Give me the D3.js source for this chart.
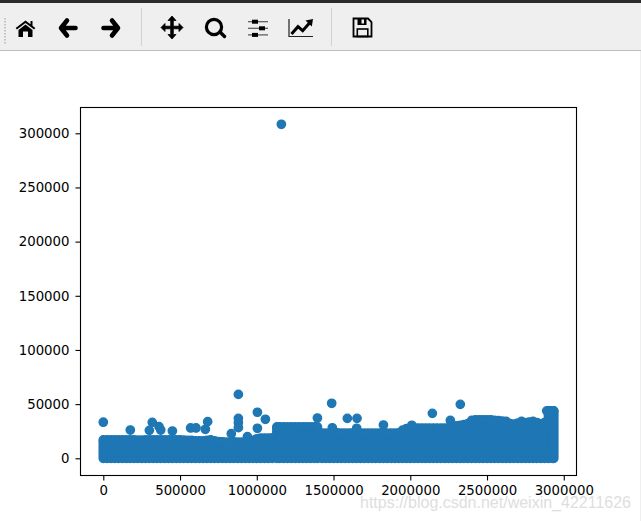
<!DOCTYPE html>
<html>
<head>
<meta charset="utf-8">
<title>scatter</title>
<script src="https://cdn.jsdelivr.net/npm/d3@7/dist/d3.min.js"></script>
<style>
  html, body { margin: 0; padding: 0; background: #fff; }
  svg { display: block; }
  text { font-family: "DejaVu Sans", sans-serif; }
</style>
</head>
<body>
<script>
var xTicks = [0, 500000, 1000000, 1500000, 2000000, 2500000, 3000000];
var yTicks = [0, 50000, 100000, 150000, 200000, 250000, 300000];

// isolated points above the main band
var pointX = [0, 176000, 319000, 300000, 363000, 374000, 450000, 569000, 604000, 665000, 680000, 834000,
  880000, 880000, 880000, 880000, 939000, 1004000, 1056000, 1004000, 1160000, 1395000, 1488000, 1492000,
  1590000, 1653000, 1651000, 1825000, 2010000, 2144000, 2261000, 2326000, 2889000, 2910000, 2932000];
var pointY = [33300, 26100, 33200, 25800, 29200, 26100, 25200, 28000, 28000, 26800, 33800, 22700,
  59000, 36900, 32900, 28300, 19900, 42500, 36000, 27700, 308300, 37200, 50800, 28200,
  36900, 36900, 27700, 30700, 30500, 41500, 34900, 49800, 43800, 43800, 43800];

// top of the solid band
var bandX = [0, 25000, 50000, 75000, 100000, 125000, 150000, 175000, 200000, 225000,
  250000, 275000, 300000, 325000, 350000, 375000, 400000, 425000, 450000, 475000,
  500000, 525000, 550000, 575000, 600000, 625000, 650000, 675000, 700000, 725000,
  750000, 775000, 800000, 825000, 850000, 875000, 900000, 925000, 950000, 975000,
  1000000, 1025000, 1050000, 1075000, 1100000, 1131000, 1150000, 1175000, 1200000, 1225000,
  1250000, 1275000, 1300000, 1325000, 1350000, 1375000, 1395000, 1425000, 1450000, 1475000,
  1500000, 1525000, 1550000, 1575000, 1600000, 1625000, 1650000, 1675000, 1700000, 1725000,
  1750000, 1775000, 1800000, 1825000, 1850000, 1875000, 1900000, 1925000, 1950000, 1975000,
  2000000, 2025000, 2050000, 2075000, 2100000, 2125000, 2150000, 2175000, 2200000, 2225000,
  2250000, 2275000, 2300000, 2325000, 2350000, 2375000, 2400000, 2425000, 2450000, 2475000,
  2500000, 2525000, 2550000, 2575000, 2600000, 2625000, 2650000, 2675000, 2700000, 2725000,
  2750000, 2775000, 2800000, 2825000, 2850000, 2875000, 2900000, 2925000, 2935000];
var bandTop = [17000, 17000, 17000, 17000, 17000, 17000, 17000, 17000, 17000, 16800,
  16800, 17000, 17000, 17000, 17000, 17000, 17000, 17000, 17000, 17000,
  17000, 16800, 16600, 16500, 16000, 16200, 16000, 16500, 17000, 16000,
  15500, 15200, 15000, 15000, 15200, 15000, 15000, 15000, 15500, 16500,
  18000, 18700, 18700, 18700, 18800, 29000, 29000, 29000, 29000, 29000,
  29000, 29000, 29000, 29000, 29000, 29000, 29000, 23200, 23200, 23300,
  23500, 23400, 23300, 23300, 23300, 23400, 23400, 23300, 23300, 23300,
  23300, 23300, 23300, 23300, 23300, 23300, 23300, 23500, 26000, 27500,
  27900, 27900, 27900, 27900, 27900, 27900, 27900, 27900, 27900, 27900,
  28000, 28500, 30000, 30500, 31000, 32000, 35000, 35500, 35500, 35500,
  35500, 35500, 35000, 34800, 34300, 34000, 32000, 31500, 32500, 34000,
  33000, 33500, 34000, 33000, 31500, 33000, 43800, 43800, 43800];

var width = 641, height = 521;
var blue = '#1f77b4';

var translate = function(x, y) {
  return "translate(" + x + ", " + y + ") ";
};

var svg = d3.select('body').append('svg')
  .attr('width', width)
  .attr('height', height);

/*
 * Toolbar
 */
svg.append('rect').attr('width', width).attr('height', 50).style('fill', '#efefef');
svg.append('rect').attr('width', width).attr('height', 3).style('fill', '#2b2b2b');
svg.append('rect').attr('y', 50).attr('width', width).attr('height', 1).style('fill', '#bdbdbd');
svg.append('rect').attr('x', 640).attr('y', 51).attr('width', 1).attr('height', height).style('fill', '#efefef');

d3.range(18, 45, 3).forEach(function(y) {
  svg.append('rect').attr('x', 4).attr('y', y).attr('width', 2).attr('height', 1.5).style('fill', '#c4c4c4');
});

[141, 331].forEach(function(x) {
  svg.append('rect').attr('x', x).attr('y', 8).attr('width', 1).attr('height', 38).style('fill', '#d2d2d2');
});

var icon = function(x, y) {
  return svg.append('g').attr('transform', translate(x, y));
};

// home
icon(25.5, 29).append('path')
  .attr('d', 'M0,-8.5 L5,-4.7 L5,-8 L7,-8 L7,-3.2 L9.8,-1 L8.6,0.6 L0,-6 L-8.6,0.6 L-9.8,-1 Z M-7,1 L0,-4.4 L7,1 L7,8 L2.5,8 L2.5,2.5 L-2.5,2.5 L-2.5,8 L-7,8 Z')
  .style('fill', '#000');

// back and forward
var arrow = function(g) {
  g.append('path')
    .attr('d', 'M-1,-7.5 L-7,0 L-1,7.5 M-6,0 L7.5,0')
    .style('fill', 'none')
    .style('stroke', '#000')
    .style('stroke-width', 4.6)
    .style('stroke-linecap', 'round')
    .style('stroke-linejoin', 'round');
};
arrow(icon(68, 28));
arrow(icon(111, 28).append('g').attr('transform', 'scale(-1,1)'));

// move
icon(172, 27.5).append('path')
  .attr('d', 'M0,-11.5 L4,-7 L1.3,-7 L1.3,-1.3 L7,-1.3 L7,-4 L11,0 L7,4 L7,1.3 L1.3,1.3 L1.3,7 L4,7 L0,11.5 L-4,7 L-1.3,7 L-1.3,1.3 L-7,1.3 L-7,4 L-11,0 L-7,-4 L-7,-1.3 L-1.3,-1.3 L-1.3,-7 L-4,-7 Z')
  .style('fill', '#000').style('stroke', '#000').style('stroke-width', 0.8);

// zoom
var zoomIcon = icon(215, 27);
zoomIcon.append('circle').attr('cx', -1).attr('cy', 0).attr('r', 7.6)
  .style('fill', 'none').style('stroke', '#000').style('stroke-width', 3.2);
zoomIcon.append('line').attr('x1', 5).attr('y1', 5).attr('x2', 9.5).attr('y2', 9.5)
  .style('stroke', '#000').style('stroke-width', 3.4).style('stroke-linecap', 'round');

// sliders
var sliders = icon(258, 28.3);
[[-6.6, -3], [0, 4], [6.6, -3]].forEach(function(s) {
  sliders.append('line').attr('x1', -10).attr('x2', 10).attr('y1', s[0]).attr('y2', s[0])
    .style('stroke', '#555').style('stroke-width', 1.2);
  sliders.append('rect').attr('x', s[1] - 3).attr('y', s[0] - 2).attr('width', 6).attr('height', 4)
    .style('fill', '#000');
});

// subplot line icon
var lineIcon = icon(301, 28);
lineIcon.append('path').attr('d', 'M-12,-9 L-12,8.5 L12,8.5')
  .style('fill', 'none').style('stroke', '#222').style('stroke-width', 1.2);
lineIcon.append('path').attr('d', 'M-9.5,6 L-3,-1.3 L1.7,2.7 L8.5,-5')
  .style('fill', 'none').style('stroke', '#000').style('stroke-width', 3);
lineIcon.append('path').attr('d', 'M4.5,-7.5 L12,-9 L10.8,-1.5 Z').style('fill', '#000');

// save
var saveIcon = icon(362.5, 27.5);
saveIcon.append('path')
  .attr('d', 'M-9,-9 L5.5,-9 L9,-5.5 L9,9 L-9,9 Z')
  .style('fill', 'none').style('stroke', '#000').style('stroke-width', 1.8);
saveIcon.append('rect').attr('x', -5).attr('y', -9).attr('width', 9).attr('height', 6.5).style('fill', '#000');
saveIcon.append('rect').attr('x', -1).attr('y', -8).attr('width', 2.5).attr('height', 4).style('fill', '#efefef');
saveIcon.append('rect').attr('x', -5.2).attr('y', 1.5).attr('width', 10.5).attr('height', 7.5)
  .style('fill', 'none').style('stroke', '#000').style('stroke-width', 1.6);

/*
 * Chart
 */
var x = d3.scaleLinear().domain([-148560, 3083000]).range([80.5, 576.5]);
var y = d3.scaleLinear().domain([-15880, 323800]).range([475.5, 107.5]);

var plot = svg.append('g');

var bandDots = [];
bandX.forEach(function(bx, i) {
  d3.range(0, bandTop[i], 2500).concat([bandTop[i]]).forEach(function(by) {
    bandDots.push({ x: bx, y: by });
  });
});
var isolated = pointX.map(function(d, i) { return { x: d, y: pointY[i] }; });

plot.selectAll('.point')
  .data(bandDots.concat(isolated))
  .enter()
  .append('circle')
    .attr('class', 'point')
    .attr('cx', function(d) { return x(d.x); })
    .attr('cy', function(d) { return y(d.y); })
    .attr('r', 4.17)
    .style('fill', blue)
    .style('stroke', blue)
    .style('stroke-width', 1.39);

svg.append('rect')
  .attr('x', x.range()[0])
  .attr('y', y.range()[1])
  .attr('width', x.range()[1] - x.range()[0])
  .attr('height', y.range()[0] - y.range()[1])
  .style('fill', 'none')
  .style('stroke', '#000')
  .style('stroke-width', 1.1);

var xAxis = svg.append('g')
  .attr('transform', translate(0, y.range()[0]))
  .call(d3.axisBottom(x).tickValues(xTicks).tickFormat(d3.format('d')).tickSize(5).tickPadding(5));

var yAxis = svg.append('g')
  .attr('transform', translate(x.range()[0], 0))
  .call(d3.axisLeft(y).tickValues(yTicks).tickFormat(d3.format('d')).tickSize(5).tickPadding(6));

[xAxis, yAxis].forEach(function(axis) {
  axis.select('.domain').remove();
  axis.selectAll('line').style('stroke', '#000').style('stroke-width', 1.1);
  axis.selectAll('text')
    .style('font-family', '"DejaVu Sans", sans-serif')
    .style('font-size', '13.3px')
    .style('fill', '#000');
});

// watermark
svg.append('text')
  .attr('x', 360)
  .attr('y', 508)
  .text('https://blog.csdn.net/weixin_42211626')
  .style('font-family', '"Liberation Sans", sans-serif')
  .style('font-size', '16px')
  .style('fill', '#dedede');
</script>
</body>
</html>
